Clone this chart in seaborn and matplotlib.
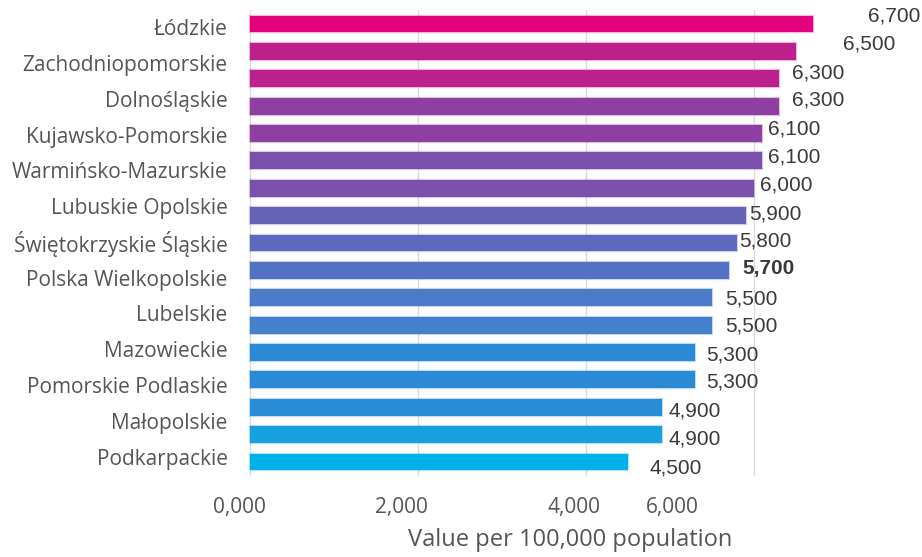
import numpy as np
import pandas as pd
import matplotlib
matplotlib.use("Agg")
import matplotlib.pyplot as plt
from matplotlib.ticker import FixedLocator
import seaborn as sns

# ---- data -------------------------------------------------------------
values = [6700, 6500, 6300, 6300, 6100, 6100, 6000, 5900, 5800,
          5700, 5500, 5500, 5300, 5300, 4900, 4900, 4500]
value_labels = ["6,700", "6,500", "6,300", "6,300", "6,100", "6,100", "6,000",
                "5,900", "5,800", "5,700", "5,500", "5,500", "5,300", "5,300",
                "4,900", "4,900", "4,500"]
regions = ["Łódzkie", "Zachodniopomorskie", "Dolnośląskie", "Kujawsko-Pomorskie",
           "Warmińsko-Mazurskie", "Lubuskie Opolskie", "Świętokrzyskie Śląskie",
           "Polska Wielkopolskie", "Lubelskie", "Mazowieckie",
           "Pomorskie Podlaskie", "Małopolskie", "Podkarpackie"]
tick_labels = ["0,000", "2,000", "4,000", "6,000"]
highlight = 5700

# ---- styling ----------------------------------------------------------
bar_colors = ["#E5007D", "#BD1F8B", "#BC208A", "#8E3FA0", "#8E3FA0",
              "#7B50AD", "#7B50AD", "#6662B8", "#5C69BE", "#5472C4",
              "#4A7AC8", "#4580CC", "#2A8AD5", "#2A8AD5", "#2A8DD7",
              "#179FDF", "#00B0EA"]
# label nudges (pixels) relative to the bar end / bar centre
label_dx = [55, 47, 13, 13, 6, 6, 6, 4, 2, 14, 13, 13, 10.5, 10.5, 6.5, 6.5, 21]
label_dy = [-8, -7.5, -6, -6, -4, -4, -3, -2, -2, -1.5, 1, 1, 2.5, 2, 3.5, 4, 5.5]

sns.set_theme(style="white")
plt.rcParams["font.family"] = ["Open Sans", "DejaVu Sans"]

df = pd.DataFrame({"rank": [str(i) for i in range(len(values))],
                   "value": values})

W, H = 922, 557
fig = plt.figure(figsize=(W / 100, H / 100), dpi=100)
left_px, right_px, top_px, bottom_px = 233.2, 922, 10.3, 475.7
ax = fig.add_axes([left_px / W, 1 - bottom_px / H,
                   (right_px - left_px) / W, (bottom_px - top_px) / H])

sns.barplot(data=df, x="value", y="rank", hue="rank", palette=bar_colors,
            orient="h", width=0.62, legend=False, ax=ax, saturation=1,
            edgecolor="none")
for patch, col in zip(ax.patches, bar_colors):
    patch.set_edgecolor(matplotlib.colors.to_rgba(col, 0.3))
    patch.set_linewidth(1.6)

ax.set_xlim(-200, 8000)
ax.set_ylim(len(values) - 0.5, -0.5)

# value annotations
px2pt = 72 / 100
for i, (v, lab) in enumerate(zip(values, value_labels)):
    ax.annotate(lab, xy=(v, i), xytext=(label_dx[i] * px2pt, -label_dy[i] * px2pt),
                textcoords="offset points", ha="left", va="center",
                fontsize=15, color="#3A3A3A",
                family=["Liberation Sans", "DejaVu Sans"],
                fontweight="bold" if (v == highlight and i == 9) else "normal")

# region labels spread over the bar stack
ax.set_yticks(np.linspace(0.12, 15.8, len(regions)))
ax.set_yticklabels(regions, fontsize=15, color="#555555")

# value axis: gridlines at round values, labels below
ax.xaxis.set_minor_locator(FixedLocator([0, 2000, 4000, 6000]))
ax.set_xticks([-131, 1798, 3857, 5024])
ax.set_xticklabels(tick_labels, fontsize=15, color="#555555")
ax.grid(False)
ax.grid(which="minor", axis="x", color="#DCDCDC", linewidth=1)
ax.set_axisbelow(True)
ax.tick_params(which="both", length=0)
ax.tick_params(axis="x", pad=15)
ax.tick_params(axis="y", pad=4)

ax.set_xlabel("Value per 100,000 population", fontsize=17, color="#555555")
ax.xaxis.set_label_coords((570 - left_px) / (right_px - left_px), -0.112)
ax.set_ylabel("")
for s in ax.spines.values():
    s.set_visible(False)

fig.savefig("out.png", dpi=100)
